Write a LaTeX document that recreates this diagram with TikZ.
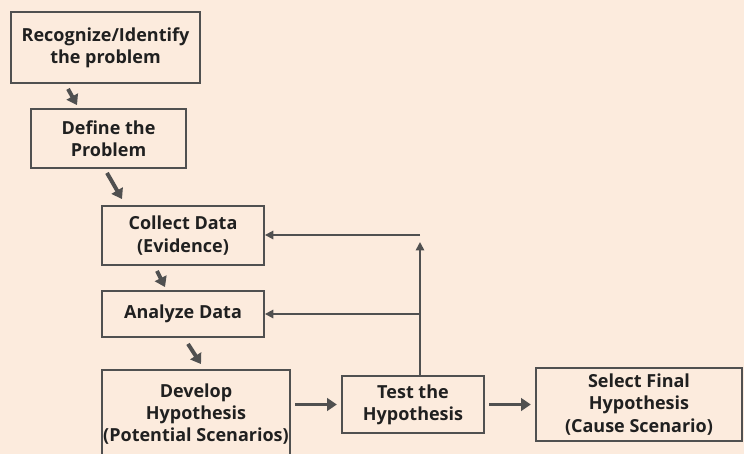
\documentclass[tikz,border=0pt]{standalone}
\usepackage{fontspec}
\setmainfont{Open Sans}
\usetikzlibrary{arrows.meta,positioning,calc}
\definecolor{paper}{HTML}{FCEBDD}
\definecolor{ink}{HTML}{505050}
\definecolor{txt}{HTML}{202020}

\begin{document}
\begin{tikzpicture}[x=0.025cm, y=-0.025cm,
    stage/.style={draw=ink, line width=1.3pt, fill=paper, text=txt, align=center,
        font=\fontsize{12.8}{15.8}\selectfont\bfseries, inner sep=0pt},
    flow/.style={draw=ink, line width=2.8pt, -{Triangle[length=7pt, width=9pt]}},
    back/.style={draw=ink, line width=1.3pt, -{Triangle[length=6pt, width=6pt]}}]
    \fill[paper] (0,0) rectangle (744,454);
    \clip (0,0) rectangle (744,454);

    \node[stage, minimum width=4.725cm, minimum height=1.775cm] (recog) at (105.5, 47.5) {Recognize/Identify\\the problem};
    \node[stage, minimum width=3.875cm, minimum height=1.475cm] (define) at (108.5, 138.5) {Define the\\Problem};
    \node[stage, minimum width=4.05cm, minimum height=1.475cm] (collect) at (183, 235.5) {Collect Data\\(Evidence)};
    \node[stage, minimum width=4.05cm, minimum height=1.15cm] (analyze) at (183, 314) {Analyze Data};
    \node[stage, minimum width=4.7cm, minimum height=2.2cm] (develop) at (196, 414) {Develop\\Hypothesis\\(Potential Scenarios)};
    \node[stage, minimum width=3.55cm, minimum height=1.425cm] (test) at (413, 404.5) {Test the\\Hypothesis};
    \node[stage, minimum width=5.15cm, minimum height=1.825cm] (select) at (639, 404.5) {Select Final\\Hypothesis\\(Cause Scenario)};
    \coordinate (loop) at (420, 235);

    % short steps down the left side
    \draw[flow] ([shift={(-37.5,5)}]recog.south) -- ([shift={(-31.5,-3)}]define.north);
    \draw[flow] ([shift={(-1.5,4)}]define.south) -- ([shift={(-61,-6)}]collect.north);
    \draw[flow] ([shift={(-26,5)}]collect.south) -- ([shift={(-18,-3)}]analyze.north);
    \draw[flow] ([shift={(5,6)}]analyze.south) -- ([shift={(5,-5)}]develop.north);
    \draw[flow] ([xshift=3pt]develop.east |- test.west) -- ([xshift=-3pt]test.west);
    \draw[flow] ([xshift=3pt]test.east) -- ([xshift=-3pt]select.west);

    % feedback from testing
    \draw[back] (test.north -| loop) -- ([yshift=-5]loop);
    \draw[back] (loop) -- (loop -| collect.east);
    \draw[back] (loop |- analyze.east) -- (analyze.east);
\end{tikzpicture}
\end{document}
